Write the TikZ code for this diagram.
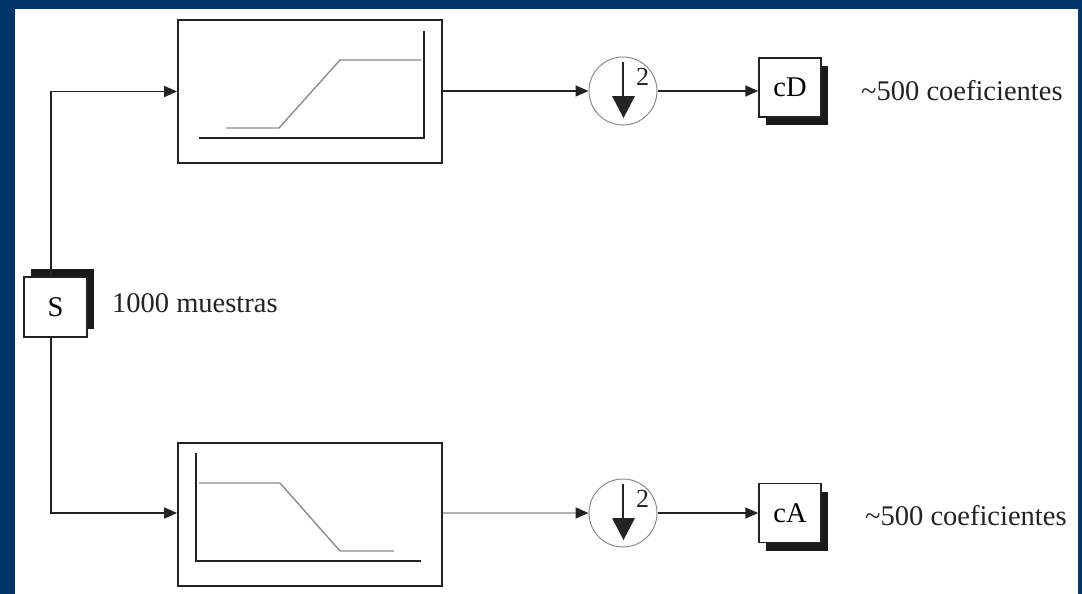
\documentclass[tikz,border=0pt]{standalone}
\usepackage{fontspec}
\setmainfont{Liberation Serif}
\usetikzlibrary{arrows.meta,shadows}
\definecolor{bg}{RGB}{0,51,102}
\definecolor{ink}{RGB}{35,35,35}
\begin{document}
\begin{tikzpicture}[x=1pt,y=-1pt,
  conn/.style={line width=1.6pt, draw=ink},
  arr/.style={conn, -{Triangle[length=13pt,width=11pt,color=ink]}},
  filt/.style={draw=ink, line width=1.8pt, minimum width=264pt, minimum height=143pt, inner sep=0pt},
  axis/.style={line width=1.8pt, draw=ink},
  resp/.style={line width=1.4pt, draw=black!45},
  dsamp/.style={circle, draw=black!45, line width=1pt, minimum size=68pt, inner sep=0pt},
  coefbox/.style={draw=ink, fill=white, line width=1.5pt, minimum width=62pt, minimum height=59pt, inner sep=0pt,
     font=\fontsize{28.5}{32}\selectfont,
     drop shadow={shadow xshift=7pt, shadow yshift=-8pt, fill=black!90, opacity=1}},
  sbox/.style={draw=ink, fill=white, line width=1.5pt, minimum width=63pt, minimum height=60pt, inner sep=0pt,
     font=\fontsize{28.5}{32}\selectfont,
     drop shadow={shadow xshift=7pt, shadow yshift=8pt, fill=black!90, opacity=1}},
  lbl/.style={anchor=west, inner sep=0pt, text=ink, font=\fontsize{28.5}{32}\selectfont}
]
\fill[bg] (0,0) rectangle (1082,594);
\fill[white] (15,9) rectangle (1078,594);
\useasboundingbox (0,0) rectangle (1082,594);

% filter boxes
\node[filt] (F1) at (310,91.5) {};
\node[filt] (F2) at (310,514.5) {};
% high-pass response
\draw[axis] (199,138) -- (424,138) -- (424,31);
\draw[resp] (226,128) -- (279,128) -- (340,60) -- (421,60);
% low-pass response
\draw[axis] (196,453) -- (196,561) -- (421,561);
\draw[resp] (199,483) -- (280,483) -- (340,551) -- (394,551);

% signal
\node[sbox] (S) at (55.5,307) {S};
\node[lbl] (tS) at (112,303) {1000 muestras};

% downsamplers
\node[dsamp] (D1) at (623,91) {};
\node[dsamp] (D2) at (623,513) {};
\foreach \d in {D1,D2}{
  \draw[line width=1.6pt, draw=ink] ([yshift=29pt]\d.center) -- ([yshift=-7pt]\d.center);
  \fill[ink] ([shift={(-11pt,-5pt)}]\d.center) -- ([shift={(12pt,-5pt)}]\d.center) -- ([shift={(0.5pt,-27pt)}]\d.center) -- cycle;
  \node[anchor=west, inner sep=0pt, text=ink, font=\fontsize{26}{28}\selectfont] at ([shift={(13pt,14pt)}]\d.center) {2};
}

% coefficient boxes
\node[coefbox] (cD) at (790,87.5) {cD};
\node[coefbox] (cA) at (790,513) {cA};
\node[lbl] (tD) at (861,91) {\textasciitilde 500 coeficientes};
\node[lbl] (tA) at (865,516) {\textasciitilde 500 coeficientes};

% connectors
\draw[arr] ([xshift=-4.5pt]S.north) |- (F1.west);
\draw[arr] ([xshift=-4.5pt]S.south) |- ([yshift=1.5pt]F2.west);
\draw[arr] (F1.east |- D1.west) -- (D1.west);
\draw[arr, draw=black!30] (F2.east |- D2.west) -- (D2.west);
\draw[arr] (D1.east) -- (D1.east -| cD.west);
\draw[arr] (D2.east) -- (D2.east -| cA.west);
\end{tikzpicture}
\end{document}
